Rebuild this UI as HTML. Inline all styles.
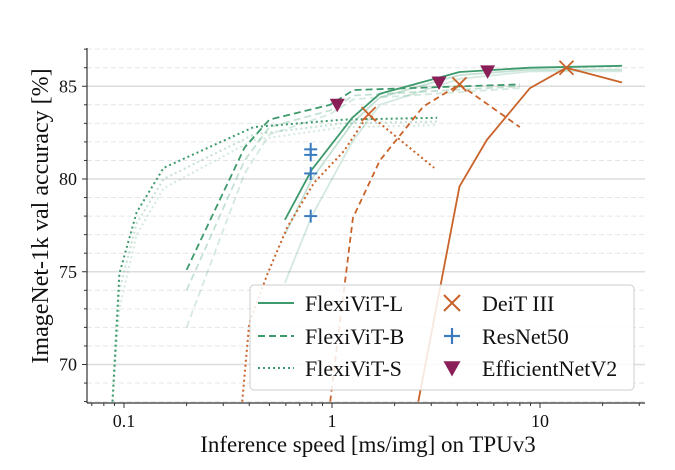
<!DOCTYPE html>
<html><head><meta charset="utf-8"><style>
html,body{margin:0;padding:0;background:#fff;}
svg text{font-family:"Liberation Serif",serif;fill:#111;}
</style></head><body>
<svg id="chart" width="675" height="465" viewBox="0 0 675 465" xmlns="http://www.w3.org/2000/svg">
<g id="grid"></g><g id="series"></g><g id="axes"></g><g id="legend"></g>
</svg>
<script>
const xTicks=[0.1,1,10];
const xTickLabels=["0.1","1","10"];
const yTicks=[70,75,80,85];
const yTickLabels=["70","75","80","85"];
// FlexiViT-L
const lX=[0.594,0.80,1.25,1.7,4.1,9,24.8];
const lY=[77.8,80.5,83.3,84.6,85.77,86.0,86.1];
const lLight1Y=[77.0,80.0,83.0,84.4,85.6,85.9,85.9];
const lLight2Y=[74.4,78.0,82.0,84.0,85.4,85.8,85.8];
// FlexiViT-B
const bX=[0.2,0.38,0.5,0.98,1.27,8];
const bY=[75.1,81.7,83.2,84.0,84.8,85.1];
const bLight1Y=[74.0,81.0,82.8,83.7,84.5,85.0];
const bLight2Y=[72.0,80.3,82.4,83.5,84.3,84.9];
// FlexiViT-S
const sX=[0.088,0.095,0.115,0.155,0.42,1.14,3.2];
const sY=[68.0,74.9,78.2,80.6,82.8,83.2,83.3];
const sLight1Y=[68.0,74.0,77.6,80.0,82.4,83.0,83.1];
const sLight2Y=[68.0,73.0,77.0,79.5,82.1,82.8,82.9];
// DeiT III
const dsX=[0.37,0.40,0.49,0.61,0.82,1.14,1.5,3.1];
const dsY=[68,72.2,74.9,77.4,79.8,81.5,83.5,80.6];
const dbX=[0.98,1.26,1.7,2.74,4.1,8.0];
const dbY=[68,77.9,81.0,83.9,85.1,82.8];
const dlX=[2.6,4.1,5.55,8.95,13.4,24.8];
const dlY=[68,79.6,82.1,84.9,86.0,85.2];
const deitMarkX=[1.5,4.1,13.4];
const deitMarkY=[83.5,85.1,86.0];
// ResNet50
const rnX=[0.79,0.79,0.79,0.79];
const rnY=[81.6,81.3,80.3,78.0];
// EfficientNetV2
const enX=[1.06,3.27,5.6];
const enY=[84.0,85.2,85.8];

const L=87,R=645,T=48,B=403;
const X=v=>332+208*Math.log10(v);
const Y=v=>179-(v-80)*18.55;
const NS="http://www.w3.org/2000/svg";
function mk(tag,attrs,parent){const e=document.createElementNS(NS,tag);for(const k in attrs)e.setAttribute(k,attrs[k]);parent.appendChild(e);return e;}
const grid=document.getElementById('grid'),ser=document.getElementById('series'),ax=document.getElementById('axes'),lg=document.getElementById('legend');
for(let v=68;v<=87;v++){
  const major=v%5===0;
  const g=mk('line',{x1:L,x2:R,y1:Y(v),y2:Y(v),stroke:major?'#dddddd':'#e6e6e6','stroke-width':major?1.4:1,'stroke-dasharray':major?'':'5,3'},grid);
  
  
}
function line(xs,ys,color,op,dash,w,name){
  const p=mk('polyline',{points:xs.map((x,i)=>X(x).toFixed(1)+','+Y(ys[i]).toFixed(1)).join(' '),fill:'none',stroke:color,'stroke-opacity':op,'stroke-width':w,'stroke-dasharray':dash,'stroke-linejoin':'round'},ser);
  
  
}
const G='#3d9a6c',O='#c9632a';
const defs=mk('clipPath',{id:'clip'},ser);mk('rect',{x:L,y:T,width:R-L,height:B-T},defs);
ser.setAttribute('clip-path','url(#clip)');
line(lX,lLight2Y,G,0.22,'',1.8,'flexivit-l-light-2');
line(lX,lLight1Y,G,0.3,'',1.8,'flexivit-l-light-1');
line(bX,bLight2Y,G,0.22,'7,4',1.8,'flexivit-b-light-2');
line(bX,bLight1Y,G,0.3,'7,4',1.8,'flexivit-b-light-1');
line(sX,sLight2Y,G,0.22,'2,3',2,'flexivit-s-light-2');
line(sX,sLight1Y,G,0.3,'2,3',2,'flexivit-s-light-1');
line(lX,lY,G,1,'',1.8,'flexivit-l-line');
line(bX,bY,G,1,'7,4',1.8,'flexivit-b-line');
line(sX,sY,G,1,'2,3',2,'flexivit-s-line');
line(dsX,dsY,O,1,'2,3',2,'deit-s-line');
line(dbX,dbY,O,1,'6,4',1.8,'deit-b-line');
line(dlX,dlY,O,1,'',1.8,'deit-l-line');
function xMark(cx,cy,s,c,w,parent){const g=mk('g',{stroke:c,'stroke-width':w},parent);mk('line',{x1:cx-s,y1:cy-s,x2:cx+s,y2:cy+s},g);mk('line',{x1:cx-s,y1:cy+s,x2:cx+s,y2:cy-s},g);return g;}
function plus(cx,cy,s,c,w,parent){const g=mk('g',{stroke:c,'stroke-width':w},parent);mk('line',{x1:cx-s,y1:cy,x2:cx+s,y2:cy},g);mk('line',{x1:cx,y1:cy-s,x2:cx,y2:cy+s},g);return g;}
function tri(cx,cy,s,c,parent){return mk('polygon',{points:`${cx-s},${cy-s*0.8} ${cx+s},${cy-s*0.8} ${cx},${cy+s}`,fill:c},parent);}
deitMarkX.forEach((x,i)=>{const m=xMark(X(x),Y(deitMarkY[i]),7,O,1.8,ser);

});
rnX.forEach((x,i)=>{const m=plus(X(x),Y(rnY[i]),6.5,'#3a7bbf',2,ser);

});
enX.forEach((x,i)=>{const m=tri(X(x),Y(enY[i]),7.5,'#8a1f58',ser);

});
const sp1=mk('line',{x1:L,x2:L,y1:T,y2:B,stroke:'#333','stroke-width':1.2},ax);


const sp2=mk('line',{x1:L,x2:R,y1:B,y2:B,stroke:'#333','stroke-width':1.2},ax);


for(let d=-2;d<=1;d++)for(let m=1;m<=9;m++){const v=m*Math.pow(10,d);const x=X(v);if(x<L||x>R)continue;
  mk('line',{x1:x,x2:x,y1:B,y2:B+(m===1?5:3),stroke:'#333','stroke-width':1},ax);}
xTicks.forEach((v,i)=>{const t=mk('text',{x:X(v),y:B+24,'text-anchor':'middle','font-size':18},ax);t.textContent=xTickLabels[i];

});
for(let v=68;v<=87;v++)mk('line',{x1:L,x2:L-(v%5===0?5:3),y1:Y(v),y2:Y(v),stroke:'#333','stroke-width':1},ax);
yTicks.forEach((v,i)=>{const t=mk('text',{x:L-10,y:Y(v)+6,'text-anchor':'end','font-size':18},ax);t.textContent=yTickLabels[i];

});
const xt=mk('text',{x:368,y:452,'text-anchor':'middle','font-size':23},ax);xt.textContent='Inference speed [ms/img] on TPUv3';


const yt=mk('text',{x:0,y:0,'text-anchor':'middle','font-size':24,transform:'translate(48,216) rotate(-90)'},ax);yt.textContent='ImageNet-1k val accuracy [%]';


const box=mk('rect',{x:250,y:285,width:384,height:105,rx:4,fill:'#fff','fill-opacity':0.85,stroke:'#cccccc','stroke-width':1},lg);


const rows=[303,336,368];
const left=[['FlexiViT-L',''],['FlexiViT-B','7,4'],['FlexiViT-S','2,3']];
left.forEach((e,i)=>{const g=mk('g',{},lg);


mk('line',{x1:258,x2:294,y1:rows[i],y2:rows[i],stroke:G,'stroke-width':2,'stroke-dasharray':e[1]},g);
const t=mk('text',{x:305,y:rows[i]+8,'font-size':22},g);t.textContent=e[0];});
const right=['DeiT III','ResNet50','EfficientNetV2'];
right.forEach((n,i)=>{const g=mk('g',{},lg);


if(i===0)xMark(452,rows[i],8,O,2,g);else if(i===1)plus(452,rows[i],8,'#3a7bbf',2.2,g);else tri(452,rows[i],8.5,'#8a1f58',g);
const t=mk('text',{x:482,y:rows[i]+8,'font-size':22},g);t.textContent=n;});
</script>
</body></html>
